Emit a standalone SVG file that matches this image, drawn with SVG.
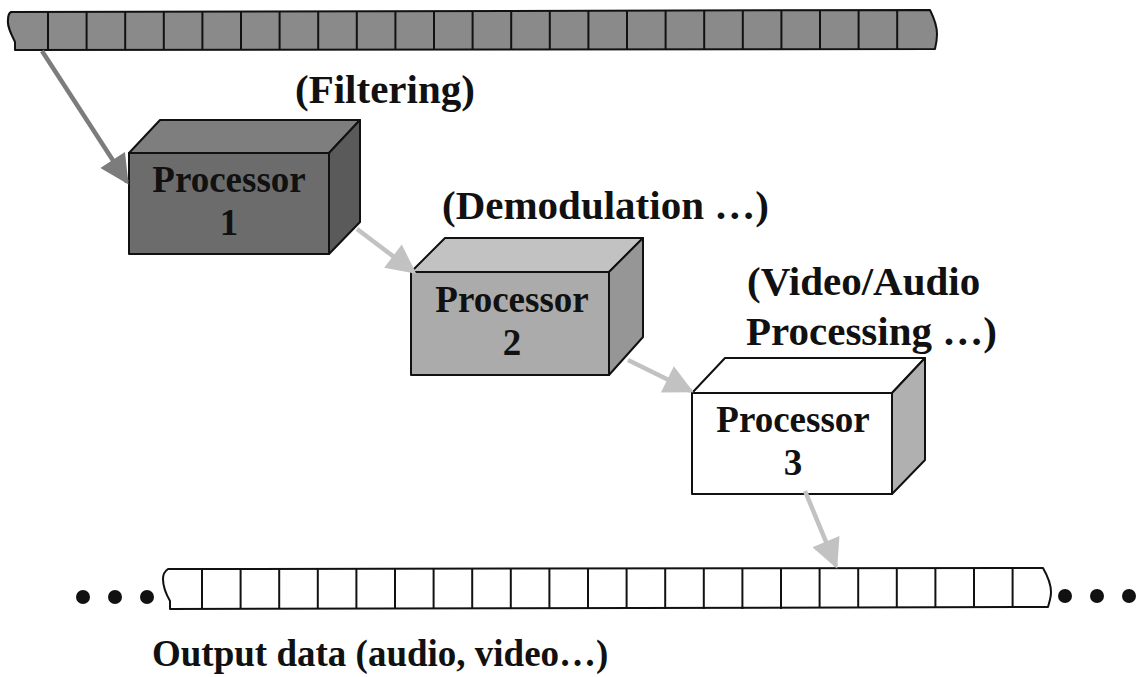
<svg xmlns="http://www.w3.org/2000/svg" width="1136" height="677" viewBox="0 0 1136 677">
<style>
.lbl{font-family:"Liberation Serif","Times New Roman",serif;font-weight:bold;font-size:41px;fill:#111}
.ptxt{font-family:"Liberation Serif","Times New Roman",serif;font-weight:bold;font-size:37px;fill:#111;text-anchor:middle}
.otxt{font-family:"Liberation Serif","Times New Roman",serif;font-weight:bold;font-size:37px;fill:#111}
.edge{stroke:#111;stroke-width:2;stroke-linejoin:round}
.cell{stroke:#111;stroke-width:2}
.dot{fill:#111}
</style>
<defs>
<marker id="headDark" viewBox="0 0 10 10" refX="9" refY="5" markerWidth="7" markerHeight="6.5" markerUnits="strokeWidth" orient="auto">
<path d="M0,0 L10,5 L0,10 z" fill="#7c7c7c"/>
</marker>
<marker id="headLight" viewBox="0 0 10 10" refX="9" refY="5" markerWidth="7" markerHeight="6.5" markerUnits="strokeWidth" orient="auto">
<path d="M0,0 L10,5 L0,10 z" fill="#c2c2c2"/>
</marker>
</defs>
<rect width="1136" height="677" fill="#fff"/>

<g id="input-tape">
<path class="edge" fill="#8a8a8a" d="M11,12 L930,10 C934,18 937,26 937,34 C937,40 936,45 935,49 L15,50 L15,42 C11,34 7,26 8,20 C8,16 9,13 11,12 z"/>
<g class="cell">
<line x1="48" y1="11" x2="48" y2="50"/><line x1="86.6" y1="11" x2="86.6" y2="50"/><line x1="125.2" y1="11" x2="125.2" y2="50"/><line x1="163.8" y1="11" x2="163.8" y2="50"/><line x1="202.4" y1="11" x2="202.4" y2="50"/><line x1="241" y1="11" x2="241" y2="50"/><line x1="279.6" y1="11" x2="279.6" y2="50"/><line x1="318.2" y1="11" x2="318.2" y2="50"/><line x1="356.8" y1="11" x2="356.8" y2="50"/><line x1="395.4" y1="11" x2="395.4" y2="50"/><line x1="434" y1="11" x2="434" y2="50"/><line x1="472.6" y1="11" x2="472.6" y2="50"/><line x1="511.2" y1="11" x2="511.2" y2="50"/><line x1="549.8" y1="11" x2="549.8" y2="50"/><line x1="588.4" y1="11" x2="588.4" y2="50"/><line x1="627" y1="11" x2="627" y2="50"/><line x1="665.6" y1="11" x2="665.6" y2="50"/><line x1="704.2" y1="11" x2="704.2" y2="50"/><line x1="742.8" y1="11" x2="742.8" y2="50"/><line x1="781.4" y1="11" x2="781.4" y2="50"/><line x1="820" y1="11" x2="820" y2="50"/><line x1="858.6" y1="11" x2="858.6" y2="50"/><line x1="897.2" y1="10" x2="897.2" y2="49"/>
</g>
</g>

<g id="output-tape">
<path class="edge" fill="#fff" d="M168,569 L1043,568 C1047,575 1051,584 1051,592 C1051,598 1049,603 1048,607 L170,609 L170,601 C166,594 163,586 163,579 C163,574 165,571 168,569 z"/>
<g class="cell">
<line x1="202" y1="569" x2="202" y2="609"/><line x1="240.6" y1="569" x2="240.6" y2="609"/><line x1="279.2" y1="569" x2="279.2" y2="609"/><line x1="317.8" y1="569" x2="317.8" y2="609"/><line x1="356.4" y1="569" x2="356.4" y2="609"/><line x1="395" y1="569" x2="395" y2="609"/><line x1="433.6" y1="569" x2="433.6" y2="609"/><line x1="472.2" y1="569" x2="472.2" y2="609"/><line x1="510.8" y1="569" x2="510.8" y2="609"/><line x1="549.4" y1="569" x2="549.4" y2="609"/><line x1="588" y1="569" x2="588" y2="609"/><line x1="626.6" y1="569" x2="626.6" y2="609"/><line x1="665.2" y1="569" x2="665.2" y2="609"/><line x1="703.8" y1="569" x2="703.8" y2="609"/><line x1="742.4" y1="569" x2="742.4" y2="609"/><line x1="781" y1="569" x2="781" y2="609"/><line x1="819.6" y1="568" x2="819.6" y2="608"/><line x1="858.2" y1="568" x2="858.2" y2="608"/><line x1="896.8" y1="568" x2="896.8" y2="608"/><line x1="935.4" y1="568" x2="935.4" y2="608"/><line x1="974" y1="568" x2="974" y2="608"/><line x1="1012.6" y1="568" x2="1012.6" y2="608"/>
</g>
<circle class="dot" cx="83" cy="597" r="7"/><circle class="dot" cx="115" cy="597" r="7"/><circle class="dot" cx="147" cy="597" r="7"/>
<circle class="dot" cx="1065" cy="596" r="7"/><circle class="dot" cx="1097" cy="596" r="7"/><circle class="dot" cx="1129" cy="596" r="7"/>
</g>

<g id="processor1">
<polygon class="edge" fill="#7e7e7e" points="129,153 160,120 360,120 329,153"/>
<polygon class="edge" fill="#5a5a5a" points="329,153 360,120 360,222 329,254"/>
<rect class="edge" fill="#6c6c6c" x="129" y="153" width="200" height="101"/>
<text class="ptxt" x="229" y="192">Processor</text>
<text class="ptxt" x="229" y="235">1</text>
</g>

<g id="processor2">
<polygon class="edge" fill="#c2c2c2" points="411,272 445,238 643,238 609,272"/>
<polygon class="edge" fill="#969696" points="609,272 643,238 643,337 609,375"/>
<rect class="edge" fill="#ababab" x="411" y="272" width="198" height="103"/>
<text class="ptxt" x="512" y="312">Processor</text>
<text class="ptxt" x="512" y="355">2</text>
</g>

<g id="processor3">
<polygon class="edge" fill="#fff" points="692,393 725,358 925,358 892,393"/>
<polygon class="edge" fill="#b0b0b0" points="892,393 925,358 925,460 892,494"/>
<rect class="edge" fill="#fff" x="692" y="393" width="200" height="101"/>
<text class="ptxt" x="793" y="432">Processor</text>
<text class="ptxt" x="793" y="475">3</text>
</g>

<g id="labels">
<text class="lbl" x="295" y="103">(Filtering)</text>
<text class="lbl" x="442" y="219">(Demodulation …)</text>
<text class="lbl" x="747" y="295">(Video/Audio</text>
<text class="lbl" x="746" y="345">Processing …)</text>
<text class="otxt" x="152" y="666">Output data (audio, video…)</text>
</g>

<g id="connectors" fill="none" stroke-width="4.5">
<line x1="42" y1="51" x2="127" y2="182" stroke="#7c7c7c" marker-end="url(#headDark)"/>
<line x1="357" y1="229" x2="414" y2="272" stroke="#c2c2c2" marker-end="url(#headLight)"/>
<line x1="628" y1="360" x2="691" y2="391" stroke="#c2c2c2" marker-end="url(#headLight)"/>
<line x1="805" y1="491" x2="836" y2="566" stroke="#c2c2c2" marker-end="url(#headLight)"/>
</g>
</svg>
